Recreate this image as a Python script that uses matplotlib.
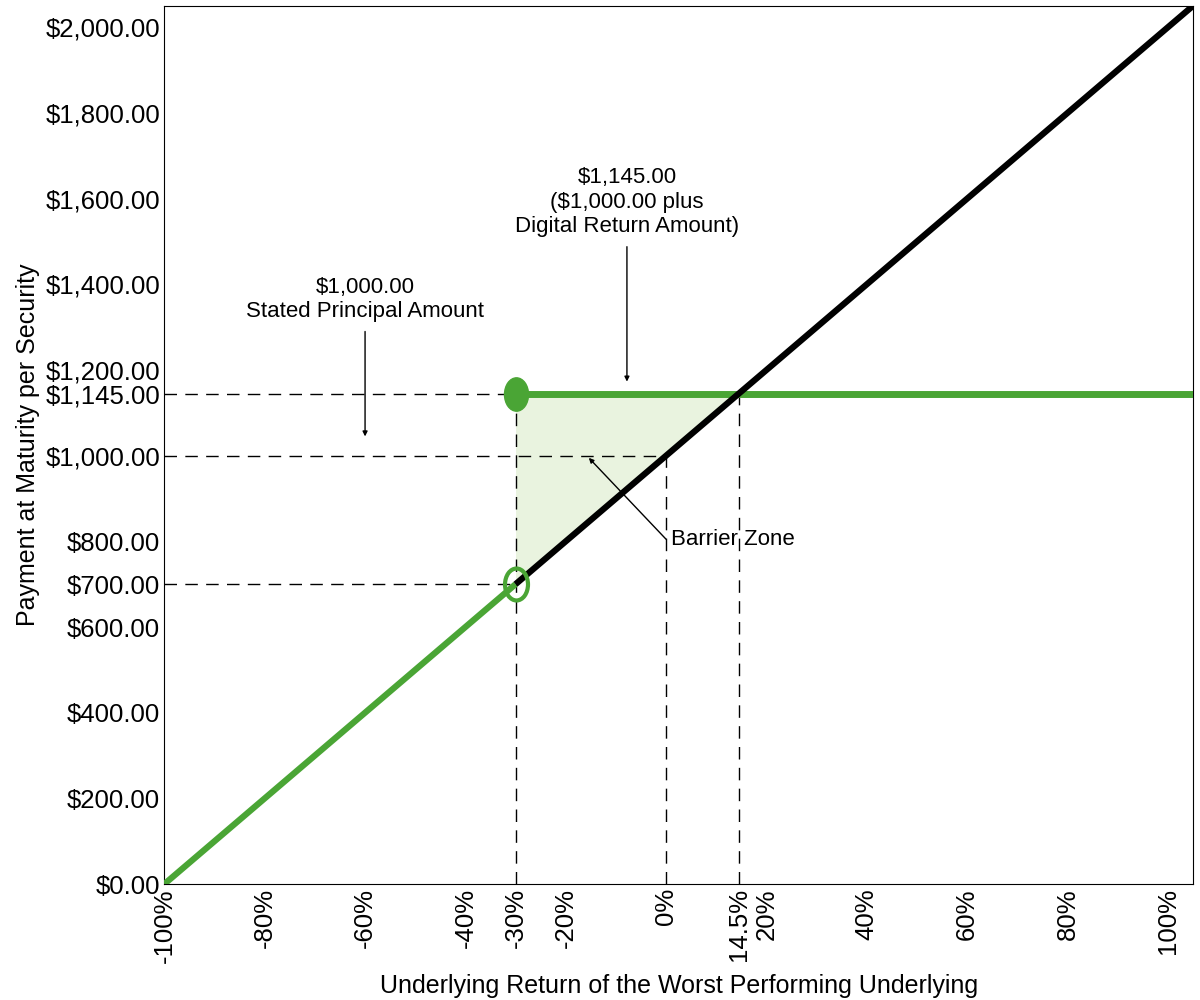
import numpy as np
import matplotlib.pyplot as plt
from matplotlib.path import Path
from matplotlib.transforms import Affine2D

plt.rcParams['font.family'] = ['Liberation Sans', 'DejaVu Sans']

# payoff data (underlying return in %, payment in $)
barrier = -30.0
digital_pay = 1145.0
principal = 1000.0
breakeven = 14.5

below_x = [-100, -30]
below_y = [0, 700]
above_x = [-30, 105]
above_y = [700, 2050]
flat_x = [-30, 105]
flat_y = [1145, 1145]
zone_x = [-30, -30, 14.5]
zone_y = [700, 1145, 1145]

xticks = [-100, -80, -60, -40, -30, -20, 0, 14.5, 20, 40, 60, 80, 100]
xlabels = ["-100%", "-80%", "-60%", "-40%", "-30%", "-20%", "0%", "14.5%",
           "20%", "40%", "60%", "80%", "100%"]
yticks = [0, 200, 400, 600, 700, 800, 1000, 1145, 1200, 1400, 1600, 1800, 2000]
ylabels = [f"${v:,.2f}" for v in yticks]

green = "#4aa535"
fill_green = "#e9f3df"

fig = plt.figure(figsize=(12, 10), dpi=100)
ax = fig.add_axes([0.137, 0.116, 0.857, 0.878])

ax.fill(zone_x, zone_y, color=fill_green, zorder=1, lw=0)

dash = dict(color="black", lw=1, dashes=(9, 6), zorder=2)
ax.plot([-100, barrier], [digital_pay, digital_pay], **dash)
ax.plot([-100, 0], [principal, principal], **dash)
ax.plot([-100, barrier], [700, 700], **dash)
ax.plot([barrier, barrier], [0, digital_pay], **dash)
ax.plot([0, 0], [0, principal], **dash)
ax.plot([breakeven, breakeven], [0, digital_pay], **dash)

ax.plot(below_x, below_y, color=green, lw=4.5, zorder=3, solid_capstyle="butt")
ax.plot(above_x, above_y, color="black", lw=4.5, zorder=4, solid_capstyle="butt")
ax.plot(flat_x, flat_y, color=green, lw=5, zorder=3, solid_capstyle="butt")

ell = Path.unit_circle().transformed(Affine2D().scale(0.72, 1.0))
ax.plot([barrier], [digital_pay], marker=ell, ms=24, color=green, mec=green, zorder=5)
ax.plot([barrier], [700], marker=ell, ms=23, mfc="none", mec=green, mew=3, zorder=5)

arrow = dict(arrowstyle="-|>", color="black", lw=1, mutation_scale=7, shrinkA=0, shrinkB=0)
ax.annotate("", xy=(-60, 1045), xytext=(-60, 1290), arrowprops=arrow)
ax.text(-60, 1364, "$1,000.00\nStated Principal Amount", ha="center", va="center",
        fontsize=16, linespacing=1.2)
ax.annotate("", xy=(-7.8, 1173), xytext=(-7.8, 1488), arrowprops=arrow)
ax.text(-7.8, 1592, "$1,145.00\n($1,000.00 plus\nDigital Return Amount)", ha="center",
        va="center", fontsize=16, linespacing=1.2)
ax.annotate("", xy=(-15.4, 995), xytext=(0, 805), arrowprops=arrow)
ax.text(1, 804, "Barrier Zone", ha="left", va="center", fontsize=16)

ax.set_xlim(-100, 105)
ax.set_ylim(0, 2050)
ax.set_xticks(xticks)
ax.set_xticklabels(xlabels, rotation=90, fontsize=18.5)
ax.set_yticks(yticks)
ax.set_yticklabels(ylabels, fontsize=18.5)
ax.tick_params(length=0, pad=3)
ax.set_xlabel("Underlying Return of the Worst Performing Underlying", fontsize=18, labelpad=8)
ax.set_ylabel("Payment at Maturity per Security", fontsize=18, labelpad=4)

fig.savefig("out.png", dpi=100)
